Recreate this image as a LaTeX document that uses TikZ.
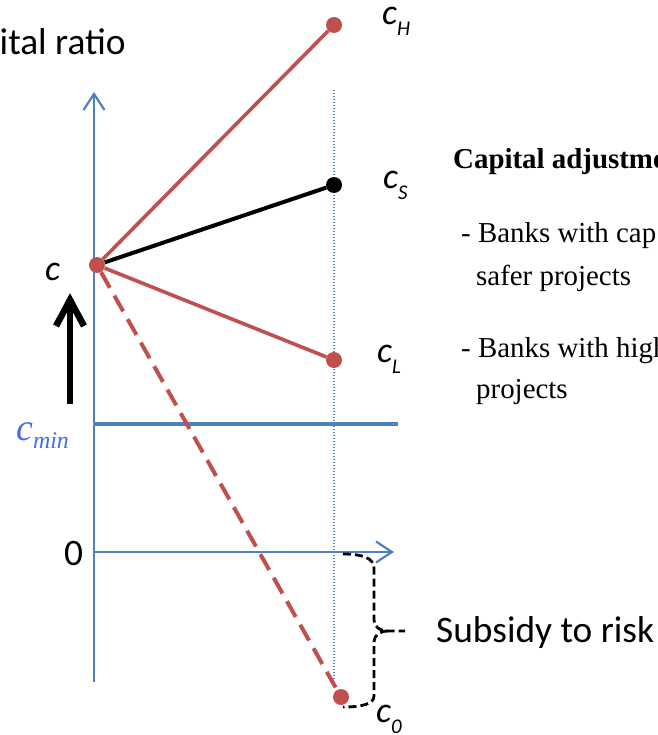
\documentclass[tikz,border=0pt]{standalone}
\usepackage{fontspec}
\setmainfont{Liberation Serif}
\newfontfamily\sansf{Carlito}
\usetikzlibrary{arrows.meta}
\definecolor{axisblue}{RGB}{79,129,189}
\definecolor{ptred}{RGB}{192,80,77}
\definecolor{minblue}{RGB}{66,110,230}
\tikzset{
  axis/.style={draw=axisblue, line width=2.2bp, -{Straight Barb[length=16bp,width=21bp,line width=2.2bp]}},
  dotred/.style={circle, fill=ptred, inner sep=0pt, minimum size=16bp},
  dotblack/.style={circle, fill=black, inner sep=0pt, minimum size=16bp},
  redline/.style={draw=ptred, line width=3.6bp},
  blackline/.style={draw=black, line width=4bp},
  reddash/.style={draw=ptred, line width=4bp, dash pattern=on 18bp off 9bp},
  guide/.style={draw=axisblue, line width=1.1bp, dash pattern=on 1.2bp off 1.8bp},
  brace/.style={draw=black, line width=2.8bp, dash pattern=on 8bp off 4bp},
  lab/.style={anchor=base west, inner sep=0pt, font=\sansf\itshape\fontsize{36}{36}\selectfont},
  txt/.style={anchor=base west, inner sep=0pt, font=\fontsize{29}{29}\selectfont},
  big/.style={anchor=base west, inner sep=0pt, font=\sansf\fontsize{37.5}{37.5}\selectfont},
}
\newcommand{\subl}[1]{\raisebox{-11bp}{\fontsize{21}{21}\selectfont #1}}
\begin{document}
\begin{tikzpicture}[x=1bp,y=-1bp]
\clip (0,0) rectangle (658,735);
% axes
\coordinate (yb) at (94,682);
\coordinate (yt) at (94,92);
\coordinate (xo) at (94,552);
\coordinate (xe) at (394,552);
\coordinate (ml) at (94,424);
\coordinate (mr) at (398,424);
\coordinate (gt) at (334,90);
\coordinate (gb) at (334,682);
\draw[guide] (gt) -- (gb);
\draw[axis] (yb) -- (yt);
\draw[axis] (xo) -- (xe);
\draw[draw=axisblue, line width=3.5bp] (ml) -- (mr);
% points
\node[dotred] (c) at (97,265) {};
\node[dotred] (cH) at (334,25) {};
\node[dotblack] (cS) at (334,185) {};
\node[dotred] (cL) at (334,360) {};
\node[dotred] (c0) at (341,697) {};
\draw[redline] (c) -- (cH);
\draw[blackline] (c) -- (cS);
\draw[redline] (c) -- (cL);
\draw[reddash] (c) -- (c0);
% black arrow
\coordinate (ab) at (70,404);
\coordinate (at) at (70,300);
\draw[line width=6.5bp] (ab) -- (at);
\draw[line width=6.5bp, line join=miter] (56,326) -- (at) -- (84,326);
% brace
\coordinate (btop) at (343,554);
\coordinate (bbot) at (343,707);
\node[big] (sub) at (436,642) {Subsidy to risk};
\coordinate (btip) at (405,631);
\draw[brace] (btop) .. controls (362,554) and (374,558) .. (374,568) -- (374,620)
  .. controls (374,627) and (380,631) .. (388,631) -- (btip);
\draw[brace] (388,631) .. controls (380,631) and (374,635) .. (374,642) -- (374,696)
  .. controls (374,704) and (362,707) .. (bbot);
% labels
\node[big] (yl) at (-0.5,55) {ital ratio};
\node[big] (zero) at (64,565) {0};
\node[lab] (lc) at (45,280) {c};
\node[lab] (lH) at (382,25) {c\subl{H}};
\node[lab] (lS) at (383,188) {c\subl{S}};
\node[lab] (lL) at (377,362) {c\subl{L}};
\node[lab] (l0) at (376,722) {c\subl{0}};
\node[anchor=base west, inner sep=0pt, text=minblue, font=\itshape\fontsize{38}{38}\selectfont] (lmin) at (16,440) {c\raisebox{-8bp}{\fontsize{24}{24}\selectfont min}};
% text
\node[txt, font=\bfseries\fontsize{29}{29}\selectfont] (t1) at (453,168) {Capital adjustme};
\node[txt] (t2) at (461,242) {- Banks with cap};
\node[txt] (t3) at (476,285) {safer projects};
\node[txt] (t4) at (461,357) {- Banks with high};
\node[txt] (t5) at (476,398) {projects};
\end{tikzpicture}
\end{document}
